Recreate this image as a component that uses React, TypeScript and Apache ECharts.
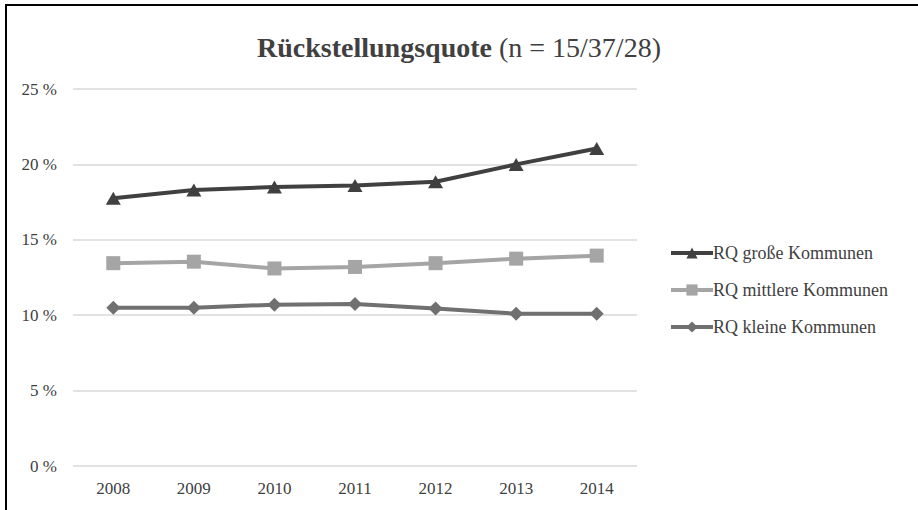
import React, { useEffect, useRef } from "react";
import * as echarts from "echarts";

const years = ["2008", "2009", "2010", "2011", "2012", "2013", "2014"];
const grosse = [17.75, 18.3, 18.5, 18.6, 18.85, 20.0, 21.05];
const mittlere = [13.45, 13.55, 13.1, 13.2, 13.45, 13.75, 13.95];
const kleine = [10.5, 10.5, 10.7, 10.75, 10.45, 10.1, 10.1];
const seriesNames = ["RQ große Kommunen", "RQ mittlere Kommunen", "RQ kleine Kommunen"];

const FONT = "Liberation Serif";

export default function App() {
  const ref = useRef<HTMLDivElement>(null);
  useEffect(() => {
    if (!ref.current) return;
    const chart = echarts.init(ref.current, undefined, { renderer: "svg" });
    chart.setOption({
      animation: false,
      backgroundColor: "#fff",
      textStyle: { fontFamily: FONT },
      title: {
        text: "{b|Rückstellungsquote} {n|(n = 15/37/28)}",
        left: "center",
        top: 28,
        textStyle: {
          fontFamily: FONT,
          fontSize: 28,
          rich: {
            b: { fontFamily: FONT, fontSize: 28, fontWeight: "bold", color: "#404040" },
            n: { fontFamily: FONT, fontSize: 28, fontWeight: "normal", color: "#404040" },
          },
        },
      },
      legend: {
        orient: "vertical",
        left: 664,
        top: 239,
        itemWidth: 42,
        itemHeight: 14,
        itemGap: 19,
        data: seriesNames,
        lineStyle: { width: 4 },
        textStyle: { fontFamily: FONT, fontSize: 18, color: "#404040", padding: [0, 0, 0, -5] },
      },
      grid: { left: 73, right: 281, top: 89, bottom: 44, containLabel: false },
      xAxis: {
        type: "category",
        data: years,
        boundaryGap: true,
        axisLine: { show: false },
        axisTick: { show: false },
        axisLabel: { fontFamily: FONT, fontSize: 17, color: "#404040", margin: 14 },
      },
      yAxis: {
        type: "value",
        min: 0,
        max: 25,
        interval: 5,
        axisLine: { show: false },
        axisTick: { show: false },
        axisLabel: { fontFamily: FONT, fontSize: 17, color: "#404040", margin: 16, formatter: (v: number) => v + " %" },
        splitLine: { lineStyle: { color: "#d9d9d9", width: 1.5 } },
      },
      series: [
        {
          name: seriesNames[0],
          type: "line",
          data: grosse,
          symbol: "triangle",
          symbolSize: [15, 13],
          color: "#404040",
          lineStyle: { width: 4, color: "#404040" },
          itemStyle: { color: "#404040" },
        },
        {
          name: seriesNames[1],
          type: "line",
          data: mittlere,
          symbol: "rect",
          symbolSize: 14,
          color: "#a5a5a5",
          lineStyle: { width: 4, color: "#a5a5a5" },
          itemStyle: { color: "#a5a5a5" },
        },
        {
          name: seriesNames[2],
          type: "line",
          data: kleine,
          symbol: "diamond",
          symbolSize: 14,
          color: "#707070",
          lineStyle: { width: 4, color: "#707070" },
          itemStyle: { color: "#707070" },
        },
      ],
    });
    return () => chart.dispose();
  }, []);
  return (
    <div style={{ position: "absolute", left: 0, top: 0, width: 918, height: 510, background: "#fff", overflow: "hidden" }}>
      <div ref={ref} style={{ position: "absolute", left: 0, top: 0, width: 918, height: 510 }} />
      <div
        style={{
          position: "absolute",
          left: 5,
          top: 4,
          right: 0,
          bottom: 0,
          borderTop: "2px solid #000",
          borderLeft: "2px solid #000",
          pointerEvents: "none",
        }}
      />
    </div>
  );
}
